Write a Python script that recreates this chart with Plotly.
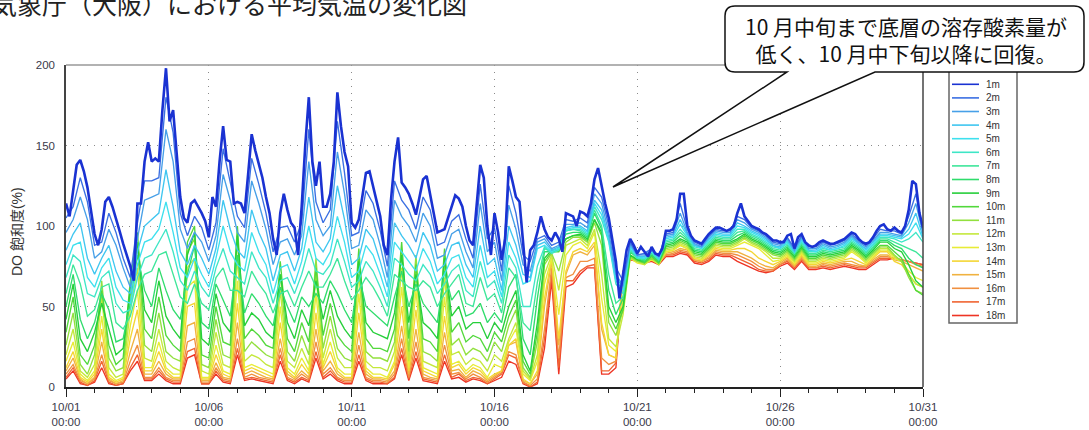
import pandas as pd
import plotly.graph_objects as go

START = "2023-10-01 00:00"
END = "2023-10-31 00:00"

DEPTHS = ["1m", "2m", "3m", "4m", "5m", "6m", "7m", "8m", "9m", "10m",
          "11m", "12m", "13m", "14m", "15m", "16m", "17m", "18m"]
COLORS = ["#1a32d2", "#3a6fe2", "#47a0e8", "#3fc6f0", "#3ee0ee", "#3ee6c6",
          "#3ee69a", "#30dc6c", "#26cf3a", "#52d83c", "#92e03e", "#c4e83c",
          "#e8ec36", "#f4d634", "#f0b240", "#f09040", "#f06432", "#ee3424"]

# 1m: 3-hourly values (one row per day)
DO_1M = [
    114, 106, 122, 138, 141, 134, 124, 110,
    95, 88, 98, 115, 118, 112, 105, 97,
    89, 82, 75, 66, 114, 114, 140, 152,
    140, 142, 140, 172, 198, 165, 172, 145,
    118, 105, 102, 114, 116, 112, 108, 103,
    93, 118, 112, 140, 162, 141, 140, 114,
    115, 114, 108, 132, 157, 147, 138, 130,
    118, 108, 92, 82, 108, 120, 110, 102,
    99, 82, 112, 150, 180, 140, 125, 140,
    112, 112, 120, 140, 183, 162, 146, 137,
    102, 99, 104, 120, 133, 134, 124, 116,
    106, 88, 82, 116, 140, 155, 127, 124,
    120, 114, 107, 118, 129, 131, 120, 108,
    96, 97, 98, 105, 112, 119, 117, 112,
    100, 91, 88, 112, 138, 130, 100, 82,
    108, 96, 79, 92, 137, 128, 118, 115,
    90, 65, 85, 88, 96, 106, 98, 93,
    91, 96, 92, 84, 108, 107, 106, 100,
    109, 108, 106, 114, 129, 136, 124, 114,
    105, 92, 78, 55, 70, 85, 92, 88,
    83, 87, 84, 81, 87, 83, 82, 86,
    97, 97, 98, 104, 120, 120, 100, 94,
    91, 90, 89, 92, 95, 97, 99, 99,
    98, 97, 98, 100, 108, 114, 106, 103,
    100, 99, 98, 96, 95, 93, 91, 91,
    90, 90, 94, 95, 86, 93, 95, 90,
    88, 87, 88, 90, 91, 90, 89, 89,
    90, 91, 92, 94, 96, 95, 92, 90,
    89, 90, 93, 97, 100, 101, 98, 97,
    99, 97, 96, 100, 110, 128, 126, 108,
    99]

# 2m-18m: 6-hourly values
DO_2M = [105, 112, 130, 115, 88, 90, 108, 96, 80, 68, 102, 128, 128, 130, 180, 158,
         108, 94, 106, 99, 85, 102, 148, 128, 106, 99, 142, 126, 108, 84, 99, 100,
         90, 102, 160, 115, 102, 110, 165, 133, 94, 96, 122, 114, 97, 75, 128, 116,
         110, 98, 118, 110, 88, 90, 103, 107, 92, 80, 126, 92, 99, 72, 125, 108,
         82, 78, 92, 94, 88, 90, 104, 103, 105, 102, 124, 118, 100, 74, 66, 90,
         82, 83, 86, 81, 95, 96, 114, 98, 90, 88, 94, 98, 97, 97, 106, 104,
         99, 97, 94, 90, 89, 93, 86, 94, 87, 87, 90, 88, 89, 91, 95, 91,
         88, 92, 98, 97, 97, 95, 106, 120, 97]
DO_3M = [96, 104, 118, 104, 80, 84, 98, 88, 74, 62, 92, 116, 118, 120, 160, 140,
         98, 86, 96, 90, 78, 94, 132, 116, 96, 90, 128, 114, 98, 76, 90, 92,
         82, 94, 140, 104, 94, 100, 146, 120, 86, 88, 110, 104, 88, 68, 116, 106,
         100, 90, 108, 100, 80, 82, 95, 98, 84, 74, 114, 84, 90, 66, 113, 98,
         76, 72, 90, 92, 86, 88, 101, 101, 102, 99, 120, 114, 96, 70, 63, 89,
         82, 82, 85, 81, 94, 95, 108, 96, 89, 87, 93, 97, 96, 96, 104, 102,
         98, 96, 93, 89, 88, 92, 85, 93, 86, 86, 89, 87, 88, 90, 94, 90,
         87, 91, 96, 96, 95, 94, 102, 114, 95]
DO_4M = [85, 95, 102, 80, 70, 80, 88, 72, 62, 58, 84, 100, 104, 108, 135, 112,
         84, 76, 88, 80, 70, 86, 116, 98, 85, 80, 110, 96, 86, 66, 82, 84,
         72, 86, 118, 90, 84, 92, 125, 104, 76, 80, 98, 92, 78, 62, 102, 94,
         88, 80, 96, 88, 72, 76, 88, 90, 76, 68, 100, 76, 80, 60, 100, 88,
         70, 68, 88, 90, 85, 87, 99, 100, 100, 97, 116, 110, 93, 68, 62, 88,
         81, 81, 85, 80, 93, 94, 104, 95, 88, 87, 92, 96, 95, 95, 102, 100,
         97, 95, 92, 88, 87, 91, 84, 92, 85, 85, 88, 86, 87, 89, 93, 89,
         86, 90, 95, 95, 94, 93, 98, 108, 93]
DO_5M = [76, 88, 90, 68, 62, 74, 80, 62, 54, 52, 76, 90, 92, 98, 115, 96,
         74, 68, 80, 70, 62, 80, 100, 84, 76, 72, 96, 84, 76, 58, 74, 76,
         64, 78, 100, 80, 76, 84, 106, 90, 68, 72, 88, 82, 70, 56, 90, 84,
         78, 72, 86, 78, 64, 70, 80, 82, 68, 62, 88, 68, 72, 56, 90, 80,
         64, 66, 86, 88, 84, 86, 98, 99, 99, 96, 114, 107, 91, 66, 60, 87,
         81, 80, 84, 80, 92, 93, 101, 94, 88, 86, 91, 95, 94, 94, 100, 99,
         96, 94, 91, 88, 86, 90, 84, 91, 85, 84, 87, 85, 86, 88, 92, 89,
         85, 89, 94, 94, 93, 92, 95, 102, 92]
DO_6M = [68, 82, 78, 58, 56, 68, 72, 52, 46, 48, 68, 80, 82, 90, 98, 84,
         66, 60, 72, 62, 56, 74, 86, 72, 68, 64, 84, 74, 68, 52, 66, 68,
         58, 70, 86, 72, 70, 76, 92, 78, 62, 66, 78, 72, 62, 50, 80, 76,
         70, 66, 76, 70, 58, 64, 72, 76, 60, 56, 78, 62, 66, 52, 82, 74,
         50, 50, 75, 87, 83, 85, 97, 98, 98, 95, 112, 104, 90, 64, 58, 86,
         80, 80, 84, 79, 91, 92, 98, 93, 87, 86, 90, 94, 93, 93, 98, 98,
         95, 93, 90, 87, 86, 89, 83, 90, 84, 84, 86, 85, 86, 87, 91, 88,
         84, 88, 93, 93, 92, 90, 92, 96, 90]
DO_7M = [58, 76, 64, 44, 48, 62, 64, 40, 36, 44, 60, 70, 72, 82, 84, 70,
         56, 52, 64, 52, 48, 68, 74, 60, 60, 56, 72, 64, 58, 46, 58, 60,
         50, 62, 72, 62, 62, 70, 80, 66, 54, 60, 68, 62, 54, 44, 70, 66,
         62, 60, 66, 62, 50, 58, 64, 70, 52, 50, 68, 54, 58, 46, 74, 68,
         40, 35, 65, 86, 84, 86, 97, 98, 97, 94, 110, 100, 70, 52, 56, 85,
         80, 79, 83, 79, 90, 91, 96, 92, 86, 85, 89, 93, 92, 92, 96, 97,
         94, 92, 89, 86, 85, 88, 83, 89, 83, 83, 85, 84, 85, 86, 90, 87,
         83, 87, 92, 92, 90, 88, 86, 84, 80]
DO_8M = [50, 70, 42, 30, 40, 58, 48, 28, 30, 52, 82, 60, 50, 74, 60, 48,
         42, 70, 88, 40, 36, 64, 54, 44, 82, 46, 58, 52, 44, 38, 62, 50,
         40, 56, 50, 58, 52, 66, 58, 48, 40, 70, 50, 46, 42, 38, 56, 72,
         50, 64, 52, 46, 40, 72, 54, 60, 44, 46, 52, 40, 46, 40, 62, 70,
         30, 20, 55, 84, 84, 86, 95, 96, 96, 93, 108, 98, 60, 45, 55, 84,
         80, 78, 82, 78, 89, 90, 94, 91, 85, 84, 88, 92, 91, 91, 94, 96,
         93, 91, 88, 85, 84, 87, 82, 88, 82, 82, 84, 83, 84, 85, 89, 86,
         82, 86, 91, 91, 88, 86, 80, 76, 74]
DO_9M = [42, 64, 30, 22, 34, 52, 36, 20, 24, 60, 90, 48, 40, 66, 44, 36,
         30, 82, 96, 30, 26, 58, 40, 34, 94, 38, 46, 42, 34, 30, 70, 40,
         30, 48, 38, 66, 42, 60, 44, 36, 30, 78, 40, 34, 32, 30, 46, 82,
         40, 70, 40, 36, 30, 80, 44, 50, 36, 40, 40, 30, 40, 34, 50, 60,
         20, 10, 40, 80, 85, 85, 92, 94, 95, 92, 104, 96, 50, 40, 50, 82,
         79, 78, 82, 78, 88, 89, 92, 90, 84, 83, 87, 91, 90, 90, 92, 95,
         92, 90, 87, 84, 83, 86, 81, 87, 81, 81, 83, 82, 83, 84, 88, 85,
         81, 85, 90, 90, 86, 84, 76, 66, 62]
DO_10M = [34, 56, 20, 14, 26, 60, 26, 14, 18, 66, 96, 36, 30, 56, 32, 26,
          22, 90, 100, 20, 18, 50, 28, 26, 100, 30, 36, 32, 26, 24, 78, 30,
          22, 40, 28, 74, 32, 52, 32, 26, 22, 86, 30, 24, 24, 22, 36, 90,
          30, 76, 30, 28, 22, 86, 34, 40, 28, 32, 30, 22, 34, 28, 44, 54,
          16, 8, 34, 78, 84, 84, 92, 94, 94, 91, 104, 94, 45, 36, 48, 82,
          79, 77, 81, 77, 87, 88, 91, 89, 83, 82, 86, 90, 89, 89, 91, 94,
          91, 89, 86, 83, 82, 85, 80, 86, 80, 80, 82, 81, 82, 83, 87, 84,
          80, 84, 88, 88, 84, 80, 70, 60, 57]
DO_11M = [26, 46, 14, 8, 20, 66, 18, 10, 12, 58, 88, 26, 22, 46, 22, 18,
          16, 84, 92, 14, 12, 42, 20, 18, 92, 22, 28, 24, 20, 18, 70, 22,
          16, 32, 20, 80, 24, 44, 24, 18, 16, 80, 22, 18, 18, 16, 28, 84,
          22, 82, 22, 20, 16, 78, 26, 30, 20, 24, 22, 16, 28, 22, 38, 48,
          12, 6, 28, 76, 83, 72, 90, 93, 93, 90, 102, 88, 40, 32, 48, 81,
          78, 77, 80, 77, 86, 87, 90, 88, 82, 81, 85, 89, 88, 88, 90, 93,
          90, 88, 85, 82, 81, 84, 79, 85, 79, 79, 81, 80, 81, 82, 86, 83,
          79, 83, 87, 87, 82, 78, 68, 60, 58]
DO_12M = [20, 36, 10, 6, 14, 56, 12, 6, 8, 48, 74, 18, 16, 36, 16, 12,
          10, 74, 80, 10, 8, 34, 14, 12, 80, 16, 20, 18, 14, 12, 60, 16,
          12, 24, 14, 70, 18, 36, 18, 12, 12, 70, 16, 12, 12, 10, 22, 74,
          16, 72, 16, 14, 12, 68, 20, 22, 14, 18, 16, 10, 20, 16, 30, 40,
          10, 5, 20, 70, 82, 60, 88, 90, 92, 88, 98, 70, 30, 25, 45, 80,
          78, 76, 80, 76, 85, 86, 89, 87, 81, 80, 84, 88, 87, 87, 89, 92,
          89, 87, 84, 80, 80, 83, 78, 84, 78, 78, 80, 79, 80, 81, 85, 82,
          78, 82, 86, 86, 81, 78, 70, 64, 62]
DO_13M = [16, 28, 8, 4, 10, 44, 8, 4, 6, 38, 60, 12, 12, 28, 12, 8,
          8, 62, 66, 6, 6, 26, 10, 8, 66, 12, 14, 12, 10, 8, 50, 12,
          8, 18, 10, 58, 14, 28, 12, 8, 8, 58, 12, 8, 8, 6, 16, 62,
          12, 60, 12, 10, 8, 56, 14, 16, 10, 14, 12, 6, 14, 12, 28, 36,
          8, 4, 16, 64, 80, 45, 82, 88, 90, 86, 96, 55, 26, 22, 55, 80,
          77, 76, 79, 76, 84, 85, 88, 86, 80, 79, 83, 87, 86, 86, 88, 90,
          88, 86, 82, 78, 79, 82, 77, 83, 77, 77, 79, 78, 79, 80, 84, 81,
          77, 81, 85, 85, 80, 78, 72, 68, 66]
DO_14M = [12, 22, 6, 3, 8, 36, 6, 3, 5, 30, 48, 10, 10, 22, 10, 6,
          6, 50, 52, 5, 5, 20, 8, 6, 52, 10, 12, 10, 8, 6, 40, 10,
          6, 14, 8, 46, 12, 22, 10, 6, 6, 46, 10, 6, 6, 5, 14, 50,
          10, 48, 10, 8, 6, 44, 12, 14, 8, 12, 10, 5, 8, 10, 26, 30,
          5, 2, 10, 55, 80, 30, 72, 84, 86, 84, 90, 40, 20, 18, 70, 81,
          79, 78, 80, 78, 84, 85, 88, 86, 80, 79, 82, 86, 85, 85, 86, 86,
          84, 80, 78, 76, 78, 81, 76, 82, 76, 76, 78, 77, 78, 79, 80, 78,
          76, 80, 84, 84, 78, 76, 70, 64, 62]
DO_15M = [10, 18, 5, 2, 6, 28, 5, 2, 4, 22, 36, 8, 8, 16, 8, 5,
          5, 38, 40, 4, 4, 15, 6, 5, 40, 8, 10, 8, 6, 5, 30, 8,
          5, 10, 6, 36, 10, 16, 8, 5, 5, 34, 8, 5, 5, 4, 10, 38,
          8, 36, 8, 6, 5, 34, 10, 11, 6, 10, 8, 4, 7, 10, 26, 28,
          4, 2, 8, 50, 78, 26, 70, 82, 84, 82, 88, 36, 20, 18, 70, 80,
          79, 78, 79, 77, 83, 84, 86, 85, 79, 78, 81, 85, 84, 84, 84, 82,
          80, 77, 75, 74, 77, 80, 75, 81, 75, 75, 77, 76, 77, 78, 78, 76,
          75, 79, 82, 82, 79, 78, 76, 74, 72]
DO_16M = [8, 14, 4, 2, 5, 20, 4, 2, 3, 16, 26, 6, 6, 12, 6, 4,
          4, 28, 30, 3, 3, 12, 5, 4, 30, 6, 8, 6, 5, 4, 24, 6,
          4, 8, 5, 28, 8, 12, 6, 4, 4, 26, 6, 4, 4, 3, 8, 30,
          6, 28, 6, 5, 4, 26, 8, 9, 5, 8, 6, 3, 6, 9, 22, 20,
          3, 1, 5, 36, 74, 18, 68, 70, 78, 78, 80, 18, 14, 16, 72, 80,
          79, 78, 79, 77, 82, 83, 85, 84, 79, 78, 80, 84, 83, 83, 82, 80,
          78, 75, 73, 73, 76, 79, 75, 80, 75, 74, 76, 75, 76, 77, 76, 75,
          75, 78, 81, 81, 80, 79, 78, 76, 75]
DO_17M = [6, 12, 3, 1, 4, 16, 3, 1, 2, 12, 20, 5, 5, 10, 5, 3,
          3, 22, 24, 2, 2, 10, 4, 3, 24, 5, 6, 5, 4, 3, 20, 5,
          3, 6, 4, 22, 6, 10, 5, 3, 3, 20, 5, 3, 3, 2, 6, 24,
          5, 22, 5, 4, 3, 20, 6, 8, 4, 6, 5, 2, 5, 8, 20, 18,
          3, 0, 3, 30, 70, 12, 66, 66, 72, 75, 76, 10, 10, 15, 72, 80,
          79, 78, 79, 77, 82, 82, 84, 83, 78, 77, 79, 83, 82, 82, 80, 78,
          76, 73, 72, 72, 76, 78, 74, 79, 74, 74, 75, 74, 75, 76, 75, 74,
          74, 77, 80, 80, 80, 79, 78, 77, 76]
DO_18M = [5, 10, 2, 1, 3, 12, 2, 1, 2, 10, 16, 4, 4, 8, 4, 2,
          2, 18, 20, 2, 2, 8, 3, 2, 20, 4, 5, 4, 3, 2, 16, 4,
          2, 5, 3, 18, 5, 8, 4, 2, 2, 16, 4, 2, 2, 2, 5, 20,
          4, 18, 4, 3, 2, 16, 5, 6, 3, 5, 4, 2, 4, 6, 16, 14,
          2, 0, 2, 24, 66, 8, 62, 64, 70, 74, 74, 8, 8, 12, 70, 79,
          78, 77, 78, 76, 81, 81, 83, 82, 77, 76, 78, 82, 81, 81, 78, 76,
          74, 72, 71, 72, 75, 77, 73, 78, 73, 73, 74, 73, 74, 75, 74, 73,
          73, 76, 79, 79, 80, 79, 78, 77, 76]

SERIES = [DO_1M, DO_2M, DO_3M, DO_4M, DO_5M, DO_6M, DO_7M, DO_8M, DO_9M,
          DO_10M, DO_11M, DO_12M, DO_13M, DO_14M, DO_15M, DO_16M, DO_17M, DO_18M]
STEPS = ["3h"] + ["6h"] * 17

TITLE_TEXT = "気象庁（大阪）における平均気温の変化図"
CALLOUT_TEXT = "10 月中旬まで底層の溶存酸素量が<br>低く、10 月中下旬以降に回復。"
Y_TITLE = "DO 飽和度(%)"

# ---- layout geometry (pixels) ----
W, H = 1089, 430
L, R, T, B = 66, 923, 65, 387


def px(xp):
    return (xp - L) / (R - L)


def py(yp):
    return (B - yp) / (B - T)


fig = go.Figure()
for i in reversed(range(len(SERIES))):
    vals = SERIES[i]
    xs = pd.date_range(START, periods=len(vals), freq=STEPS[i])
    fig.add_trace(go.Scatter(
        x=xs, y=vals, mode="lines", name=DEPTHS[i], showlegend=False,
        hoverinfo="skip",
        line=dict(color=COLORS[i], width=2.6 if i == 0 else 1.35)))

TICKFONT = dict(family="Arial, Liberation Sans, sans-serif", size=11.5, color="#3a3a4a")
GRID = dict(showgrid=True, gridcolor="#8a8a8a", gridwidth=1.4, griddash="1.4px,5.6px")

fig.update_layout(
    width=W, height=H,
    margin=dict(l=L, r=W - R, t=T, b=H - B, autoexpand=False),
    paper_bgcolor="white", plot_bgcolor="white",
    showlegend=False,
    xaxis=dict(
        type="date", range=[START, END], automargin=False,
        tick0=START, dtick=5 * 86400000, tickformat="%m/%d<br>%H:%M",
        ticks="outside", ticklen=8, tickwidth=1.3, tickcolor="#222",
        showline=True, linecolor="#222", linewidth=1.5,
        tickfont=TICKFONT, ticklabelstandoff=0,
        minor=dict(dtick=86400000, ticks="outside", ticklen=4,
                   tickwidth=1.2, tickcolor="#222", showgrid=False),
        **GRID),
    yaxis=dict(
        range=[0, 200], tick0=0, dtick=50, automargin=False,
        showline=True, linecolor="#444", linewidth=1.5,
        ticks="", tickfont=TICKFONT, ticklabelstandoff=7,
        zeroline=False, **GRID),
)

shapes = []
shapes.append(dict(type="line", xref="paper", yref="paper", x0=0, x1=1, y0=1, y1=1,
                   line=dict(color="#999999", width=1.5), layer="above"))
shapes.append(dict(type="line", xref="paper", yref="paper", x0=1, x1=1, y0=0, y1=1,
                   line=dict(color="#444444", width=1.5), layer="above"))

# manual legend box
LEG_X0, LEG_X1, LEG_Y0, LEG_Y1 = 949, 1017, 70, 323
shapes.append(dict(type="rect", xref="paper", yref="paper",
                   x0=px(LEG_X0), x1=px(LEG_X1), y0=py(LEG_Y1), y1=py(LEG_Y0),
                   line=dict(color="#666666", width=1.5), fillcolor="white", layer="above"))
annotations = []
for i, (name, col) in enumerate(zip(DEPTHS, COLORS)):
    yy = 84.3 + 13.6 * i
    shapes.append(dict(type="line", xref="paper", yref="paper",
                       x0=px(952), x1=px(979), y0=py(yy), y1=py(yy),
                       line=dict(color=col, width=1.6), layer="above"))
    annotations.append(dict(xref="paper", yref="paper", x=px(984), y=py(yy),
                            xanchor="left", yanchor="middle", showarrow=False,
                            text=name, font=dict(family="Arial, Liberation Sans", size=10, color="#333")))

# callout with pointer
BX0, BX1, BY0, BY1, RAD = 725, 1084, 6, 72, 10
P1, P2, TIPX, TIPY = 787, 875, 613, 187
pts = [
    ("M", BX0 + RAD, BY0), ("L", BX1 - RAD, BY0), ("Q", BX1, BY0, BX1, BY0 + RAD),
    ("L", BX1, BY1 - RAD), ("Q", BX1, BY1, BX1 - RAD, BY1), ("L", P2, BY1),
    ("L", TIPX, TIPY), ("L", P1, BY1), ("L", BX0 + RAD, BY1),
    ("Q", BX0, BY1, BX0, BY1 - RAD), ("L", BX0, BY0 + RAD), ("Q", BX0, BY0, BX0 + RAD, BY0),
]
path = ""
for p in pts:
    cmd, coords = p[0], p[1:]
    vals = []
    for k in range(0, len(coords), 2):
        vals.append(f"{px(coords[k]):.5f},{py(coords[k + 1]):.5f}")
    path += cmd + " " + " ".join(vals) + " "
path += "Z"
shapes.append(dict(type="path", xref="paper", yref="paper", path=path,
                   line=dict(color="#111111", width=1.5), fillcolor="white", layer="above"))

annotations.append(dict(xref="paper", yref="paper", x=px(906), y=py(40),
                        xanchor="center", yanchor="middle", showarrow=False,
                        text=CALLOUT_TEXT, align="center",
                        font=dict(family="Noto Sans CJK JP", size=21, color="#111")))
annotations.append(dict(xref="paper", yref="paper", x=px(-10), y=py(3),
                        xanchor="left", yanchor="middle", showarrow=False,
                        text=TITLE_TEXT,
                        font=dict(family="Noto Sans CJK JP", size=25, color="#222")))
annotations.append(dict(xref="paper", yref="paper", x=px(17), y=py(232),
                        xanchor="center", yanchor="middle", showarrow=False,
                        text=Y_TITLE, textangle=-90,
                        font=dict(family="Arial, Noto Sans CJK JP", size=14, color="#333")))

fig.update_layout(shapes=shapes, annotations=annotations)
fig.write_html("out.html", config={"displayModeBar": False},
               post_script="document.body.style.margin='0px';")
